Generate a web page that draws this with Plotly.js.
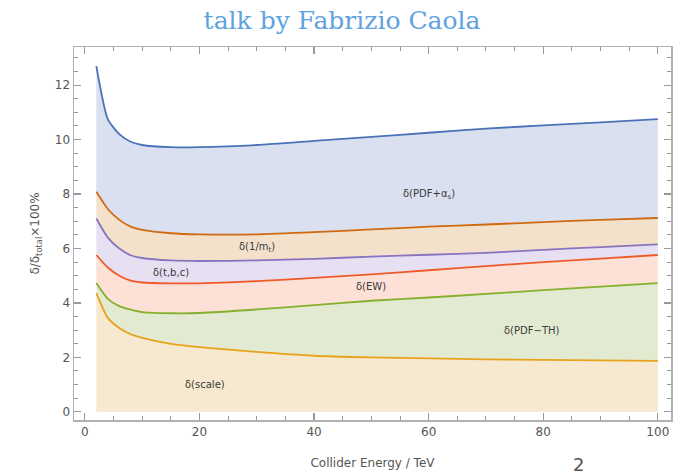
<!DOCTYPE html>
<html><head><meta charset="utf-8">
<script src="https://cdn.plot.ly/plotly-3.0.1.min.js"></script>
<style>html,body{margin:0;padding:0;background:#fff}#chart{width:684px;height:476px}</style>
</head><body><div id="chart"></div>
<script>
const energy = [2, 4, 6, 8, 10, 15, 20, 30, 40, 50, 60, 70, 80, 90, 100];
const deltaScale = [4.36, 3.45, 3.08, 2.85, 2.72, 2.5, 2.38, 2.2, 2.06, 2.0, 1.96, 1.93, 1.91, 1.89, 1.87];
const deltaPdfTh = [4.73, 4.15, 3.88, 3.75, 3.66, 3.62, 3.63, 3.76, 3.92, 4.08, 4.2, 4.33, 4.47, 4.6, 4.73];
const deltaEW = [5.76, 5.3, 5.0, 4.82, 4.75, 4.72, 4.72, 4.8, 4.92, 5.05, 5.2, 5.35, 5.5, 5.63, 5.76];
const deltaTbc = [7.1, 6.4, 6.0, 5.75, 5.65, 5.56, 5.54, 5.56, 5.62, 5.7, 5.77, 5.84, 5.95, 6.05, 6.15];
const deltaMt = [8.08, 7.45, 7.05, 6.8, 6.68, 6.56, 6.52, 6.52, 6.6, 6.7, 6.8, 6.88, 6.97, 7.05, 7.12];
const deltaPdfAs = [12.7, 10.75, 10.2, 9.92, 9.8, 9.72, 9.72, 9.8, 9.95, 10.1, 10.25, 10.4, 10.52, 10.63, 10.75];

const bandLabels = ['δ(scale)', 'δ(PDF−TH)', 'δ(EW)', 'δ(t,b,c)', 'δ(1/m<sub>t</sub>)', 'δ(PDF+α<sub>s</sub>)'];
const labelX = [21, 78, 50, 15, 30, 60];
const labelY = [1.0, 3.0, 4.6, 5.1, 6.05, 8.0];

const series = [deltaScale, deltaPdfTh, deltaEW, deltaTbc, deltaMt, deltaPdfAs];
const lineColors = ['#e8a21c', '#86b02c', '#f05a28', '#8a74c0', '#d06a10', '#4a72b8'];
const fillColors = ['rgba(246,233,207,1)', 'rgba(226,234,210,1)', 'rgba(253,224,214,1)', 'rgba(230,224,242,1)', 'rgba(243,225,204,1)', 'rgba(219,224,241,1)'];

const traces = series.map((ys, i) => ({
  x: energy, y: ys, type: 'scatter', mode: 'lines',
  line: {color: lineColors[i], width: 1.8, shape: 'spline', smoothing: 0.6},
  fill: i === 0 ? 'tozeroy' : 'tonexty',
  fillcolor: fillColors[i],
  hoverinfo: 'skip', showlegend: false
}));
// invisible trace so the mirrored top/right tick axes are drawn
traces.push({x: energy, y: deltaScale, xaxis: 'x2', yaxis: 'y2', type: 'scatter', mode: 'lines',
  line: {color: 'rgba(0,0,0,0)', width: 0}, hoverinfo: 'skip', showlegend: false});

const annotations = bandLabels.map((t, i) => ({
  x: labelX[i], y: labelY[i], xref: 'x', yref: 'y', text: t, showarrow: false,
  font: {family: 'DejaVu Sans', size: 10, color: '#3a3a3a'}
}));
annotations.push({
  xref: 'paper', yref: 'paper', x: 0.845, y: -0.118, xanchor: 'center', yanchor: 'middle',
  text: '2', showarrow: false, font: {family: 'DejaVu Sans', size: 18, color: '#555'}
});

const tickCol = '#999999';
const axisCommon = {
  showline: true, linecolor: '#b0b0b0', linewidth: 1.5,
  ticks: 'inside', ticklen: 7, tickcolor: tickCol, tickwidth: 1.2,
  showgrid: false, zeroline: false, layer: 'above traces',
  tickfont: {family: 'DejaVu Sans', size: 12, color: '#555'}
};
const minorTicks = (d) => ({dtick: d, ticklen: 4, tickcolor: tickCol, tickwidth: 1, ticks: 'inside', showgrid: false});
const xRange = [-1.9, 102.3];
const yRange = [-0.3, 13.4];

const layout = {
  width: 684, height: 476,
  margin: {l: 74, r: 13, t: 47, b: 56},
  paper_bgcolor: '#fff', plot_bgcolor: '#fff',
  title: {text: 'talk by Fabrizio Caola', x: 0.5, xanchor: 'center', y: 0.957, yanchor: 'middle',
    font: {family: 'DejaVu Serif', size: 25, color: '#5ea3e0'}},
  xaxis: Object.assign({}, axisCommon, {
    range: xRange, tick0: 0, dtick: 20, minor: minorTicks(5),
    title: {text: 'Collider Energy / TeV', standoff: 20, font: {family: 'DejaVu Sans', size: 12, color: '#555'}}
  }),
  yaxis: Object.assign({}, axisCommon, {
    range: yRange, tick0: 0, dtick: 2, minor: minorTicks(0.5),
    title: {text: 'δ/δ<sub>total</sub>×100%', standoff: 12, font: {family: 'DejaVu Sans', size: 12, color: '#555'}}
  }),
  xaxis2: Object.assign({}, axisCommon, {
    overlaying: 'x', side: 'top', anchor: 'y2', range: xRange, tick0: 0, dtick: 20, showticklabels: false,
    minor: minorTicks(5)
  }),
  yaxis2: Object.assign({}, axisCommon, {
    overlaying: 'y', side: 'right', anchor: 'x2', range: yRange, tick0: 0, dtick: 2, showticklabels: false,
    minor: minorTicks(0.5)
  }),
  annotations: annotations
};

Plotly.newPlot('chart', traces, layout, {staticPlot: true, displayModeBar: false});
</script></body></html>
